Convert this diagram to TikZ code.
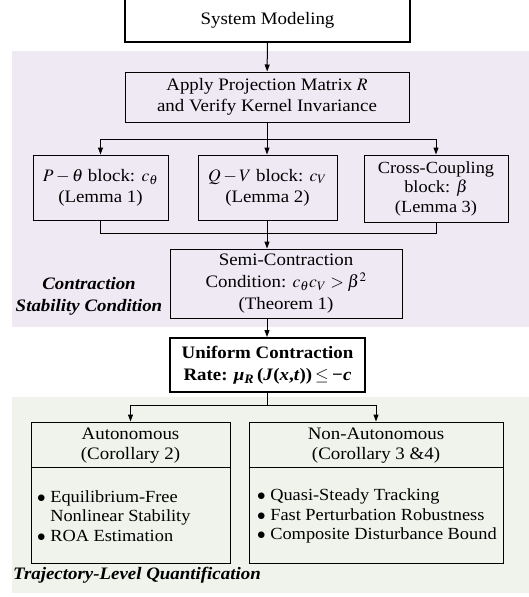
\documentclass[tikz,border=0pt]{standalone}
\usepackage{mathptmx}
\usepackage{fontspec}
\setmainfont[FakeStretch=1.08]{Liberation Serif}
\usetikzlibrary{arrows.meta}

\definecolor{condbg}{RGB}{239,233,244}
\definecolor{trajbg}{RGB}{240,242,236}

\tikzset{
  stepbox/.style={draw, line width=1pt, align=center, inner sep=2pt},
  keybox/.style={stepbox, line width=2pt},
  arr/.style={-{Triangle[length=7pt,width=5pt]}, line width=1pt},
  conn/.style={line width=1pt},
  regiontitle/.style={font=\fontsize{17.5}{22}\selectfont\bfseries\itshape, align=center, inner sep=0pt}
}

\begin{document}
\begin{tikzpicture}[x=1pt, y=-1pt, font=\fontsize{17.5}{20.5}\selectfont]
  \useasboundingbox (0,0) rectangle (529,597);

  % Hintergrundflaechen
  \fill[condbg] (12,51) rectangle (529,327);
  \fill[trajbg] (12,397) rectangle (529,593);

  % Kopfknoten
  \node[keybox, minimum width=285pt, minimum height=44pt] (sys) at (267.5,20) {System Modeling};

  % Projektion
  \node[stepbox, minimum width=284pt, minimum height=50pt] (apply) at (267,97)
    {Apply Projection Matrix $R$\\and Verify Kernel Invariance};

  % Drei Bloecke
  \node[stepbox, minimum width=135pt, minimum height=65pt, font=\fontsize{17.5}{21}\selectfont] (pth) at (100.5,187.5)
    {$P-\theta$ block: $c_\theta$\\(Lemma 1)};
  \node[stepbox, minimum width=139pt, minimum height=65pt, font=\fontsize{17.5}{21}\selectfont] (qv) at (267.5,187.5)
    {$Q-V$ block: $c_V$\\(Lemma 2)};
  \node[stepbox, minimum width=144pt, minimum height=67pt, font=\fontsize{17}{19.5}\selectfont] (cc) at (436,188.5)
    {Cross-Coupling\\block: $\beta$\\(Lemma 3)};

  % Bedingung
  \node[stepbox, minimum width=232pt, minimum height=69pt, font=\fontsize{17.5}{22}\selectfont] (semi) at (286,283.5)
    {Semi-Contraction\\Condition: $c_\theta c_V > \beta^2$\\(Theorem 1)};
  \node[regiontitle] (condtitle) at (89,296) {Contraction\\Stability Condition};

  % Kontraktionsrate
  \node[keybox, minimum width=195pt, minimum height=54pt, font=\fontsize{17.5}{22.5}\selectfont\bfseries] (unif) at (267.5,365)
    {Uniform Contraction\\Rate: \textit{μ}\textsubscript{\textit{R}}\,(\textit{J}(\textit{x},\textit{t}))\,$\le$\,\textit{−c}};

  % Untere Kaesten
  \node[stepbox, minimum width=199pt, minimum height=141pt] (auto) at (130.5,492.5) {};
  \node[stepbox, minimum width=254pt, minimum height=141pt] (nonauto) at (376,492.5) {};
  \draw[conn] (auto.west |- 0,467) -- (auto.east |- 0,467);
  \draw[conn] (nonauto.west |- 0,467) -- (nonauto.east |- 0,467);

  \node[align=center, inner sep=0pt] (autohead) at (130.5,445.5) {Autonomous\\(Corollary 2)};
  \node[align=center, inner sep=0pt] (nonautohead) at (376,445.5) {Non-Autonomous\\(Corollary 3 \&4)};
  \node[align=left, anchor=west, inner sep=0pt, font=\fontsize{17}{19.5}\selectfont] (autolist) at (37,516)
    {$\bullet$ Equilibrium-Free\\\phantom{$\bullet$ }Nonlinear Stability\\$\bullet$ ROA Estimation};
  \node[align=left, anchor=west, inner sep=0pt, font=\fontsize{17}{19.5}\selectfont] (nonautolist) at (257,516)
    {$\bullet$ Quasi-Steady Tracking\\$\bullet$ Fast Perturbation Robustness\\$\bullet$ Composite Disturbance Bound};

  \node[regiontitle, anchor=west] (trajtitle) at (13,575) {Trajectory-Level Quantification};

  % Verbindungen
  \coordinate (split) at (267,139);
  \coordinate (merge) at (267,233);
  \coordinate (fork) at (267.5,405);

  \draw[arr] (sys) -- (apply);
  \draw[conn] (apply.south) -- (split);
  \draw[arr] (split) -| (pth.north);
  \draw[arr] (split) -- (qv.north -| split);
  \draw[arr] (split) -| (cc.north);

  \draw[conn] (pth.south) |- (merge);
  \draw[conn] (cc.south) |- (merge);
  \draw[conn] (qv.south -| merge) -- (merge);
  \draw[arr] (merge) -- (semi.north -| merge);

  \draw[arr] (semi.south -| merge) -- (unif.north -| merge);
  \draw[conn] (unif.south) -- (fork);
  \draw[arr] (fork) -| (auto.north);
  \draw[arr] (fork) -| (nonauto.north);
\end{tikzpicture}
\end{document}
